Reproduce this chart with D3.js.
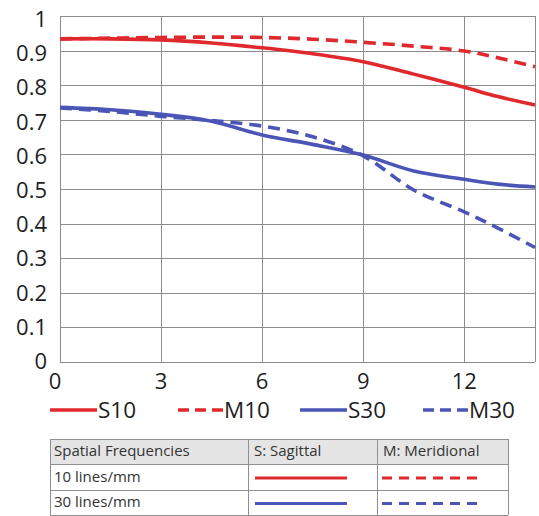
<!DOCTYPE html>
<html><head><meta charset="utf-8">
<script src="https://cdn.jsdelivr.net/npm/d3@7"></script>
<style>
html,body{margin:0;padding:0;background:#fff;}
svg{display:block;font-family:"Open Sans",sans-serif;}
</style></head>
<body>
<svg id="c" width="539" height="516"></svg>
<script>
// ---- data ----
const xValues = [0, 1.5, 3, 4.5, 6, 7.5, 9, 10.5, 12, 13, 14.1];
const s10 = [0.934, 0.934, 0.931, 0.922, 0.908, 0.891, 0.868, 0.832, 0.794, 0.767, 0.743];
const m10 = [0.934, 0.936, 0.938, 0.939, 0.938, 0.933, 0.924, 0.913, 0.899, 0.879, 0.853];
const s30 = [0.736, 0.729, 0.716, 0.696, 0.656, 0.629, 0.598, 0.552, 0.528, 0.514, 0.506];
const m30 = [0.734, 0.724, 0.710, 0.698, 0.682, 0.651, 0.596, 0.497, 0.434, 0.387, 0.331];
const xTicks = [0, 3, 6, 9, 12];
const yTicks = [0, 0.1, 0.2, 0.3, 0.4, 0.5, 0.6, 0.7, 0.8, 0.9, 1];
const seriesNames = ["S10", "M10", "S30", "M30"];
const tableHeader = ["Spatial Frequencies", "S: Sagittal", "M: Meridional"];
const tableRows = ["10 lines/mm", "30 lines/mm"];

const RED = "#e0292d", BLUE = "#4b55b6";
const series = [
  {name: seriesNames[0], vals: s10, color: RED, dash: null},
  {name: seriesNames[1], vals: m10, color: RED, dash: "12,7"},
  {name: seriesNames[2], vals: s30, color: BLUE, dash: null},
  {name: seriesNames[3], vals: m30, color: BLUE, dash: "12,7"}
];

const svg = d3.select("#c");
const L = 60, T = 16, R = 535, B = 362;
const x = d3.scaleLinear().domain([0, 14.1]).range([L, R]);
const y = d3.scaleLinear().domain([0, 1]).range([B, T]);
const yLab = d3.scaleLinear().domain([0, 1]).range([B - 1, T + 3]);

// grid
const grid = svg.append("g").attr("stroke", "#8c8c8c").attr("stroke-width", 1.1).attr("shape-rendering", "crispEdges");
grid.selectAll("line.h").data(yTicks).join("line")
  .attr("x1", L).attr("x2", R).attr("y1", d => Math.round(y(d)) + 0.5).attr("y2", d => Math.round(y(d)) + 0.5);
grid.selectAll("line.v").data(xTicks.concat([14.1])).join("line")
  .attr("y1", T).attr("y2", B).attr("x1", d => Math.round(x(d)) + 0.5).attr("x2", d => Math.round(x(d)) + 0.5);

// axis labels
svg.append("g").selectAll("text").data(yTicks).join("text")
  .attr("x", 47).attr("y", d => yLab(d)).attr("dy", "0.36em")
  .attr("text-anchor", "end").attr("font-size", 22).attr("fill", "#1e1e1e")
  .text(d => d3.format("~g")(d));
svg.append("g").selectAll("text").data(xTicks).join("text")
  .attr("x", d => x(d) - (d === 0 ? 5 : 0)).attr("y", 389)
  .attr("text-anchor", "middle").attr("font-size", 22).attr("fill", "#1e1e1e")
  .text(d => d);

// lines
const line = d3.line().curve(d3.curveCatmullRom.alpha(0.5));
svg.append("g").selectAll("path").data(series).join("path")
  .attr("d", s => line(s.vals.map((v, i) => [x(xValues[i]), y(v)])))
  .attr("fill", "none").attr("stroke", s => s.color).attr("stroke-width", 3.6)
  .attr("stroke-dasharray", s => s.dash);

// legend
const legX = [50, 178, 300, 423];
const lg = svg.append("g").selectAll("g").data(series).join("g")
  .attr("transform", (s, i) => `translate(${legX[i]},410)`);
lg.append("line").attr("x1", 0).attr("x2", 47).attr("y1", 0).attr("y2", 0)
  .attr("stroke", s => s.color).attr("stroke-width", 3.6)
  .attr("stroke-dasharray", s => s.dash ? "11,6" : null);
lg.append("text").attr("x", s => s.dash ? 46 : 48).attr("y", 8).attr("font-size", 22.5).attr("fill", "#1e1e1e")
  .text(s => s.name);

// table
const tx = [50, 248, 377, 508], ty = [439, 464, 490, 515];
const tb = svg.append("g");
tb.append("rect").attr("x", tx[0]).attr("y", ty[0]).attr("width", tx[3] - tx[0]).attr("height", ty[1] - ty[0]).attr("fill", "#e5e5e5");
const tl = tb.append("g").attr("stroke", "#8f8f8f").attr("stroke-width", 1).attr("shape-rendering", "crispEdges");
ty.forEach(v => tl.append("line").attr("x1", tx[0]).attr("x2", tx[3]).attr("y1", v + 0.5).attr("y2", v + 0.5));
tx.forEach(v => tl.append("line").attr("y1", ty[0]).attr("y2", ty[3]).attr("x1", v + 0.5).attr("x2", v + 0.5));
tb.selectAll("text.h").data(tableHeader).join("text")
  .attr("x", (d, i) => tx[i] + (i === 0 ? 4 : 6)).attr("y", 456).attr("font-size", 15).attr("fill", "#333").text(d => d);
tb.selectAll("text.r").data(tableRows).join("text")
  .attr("x", tx[0] + 4).attr("y", (d, i) => 482 + i * 25).attr("font-size", 15).attr("fill", "#333").text(d => d);
const rowSeries = [[series[0], series[1]], [series[2], series[3]]];
rowSeries.forEach((pair, r) => {
  const yy = (ty[r + 1] + ty[r + 2]) / 2 + 1;
  tb.append("line").attr("x1", 255).attr("x2", 347).attr("y1", yy).attr("y2", yy)
    .attr("stroke", pair[0].color).attr("stroke-width", 3.2);
  tb.append("line").attr("x1", 382).attr("x2", 477).attr("y1", yy).attr("y2", yy)
    .attr("stroke", pair[1].color).attr("stroke-width", 3.2).attr("stroke-dasharray", "10,7");
});
</script>
</body></html>
